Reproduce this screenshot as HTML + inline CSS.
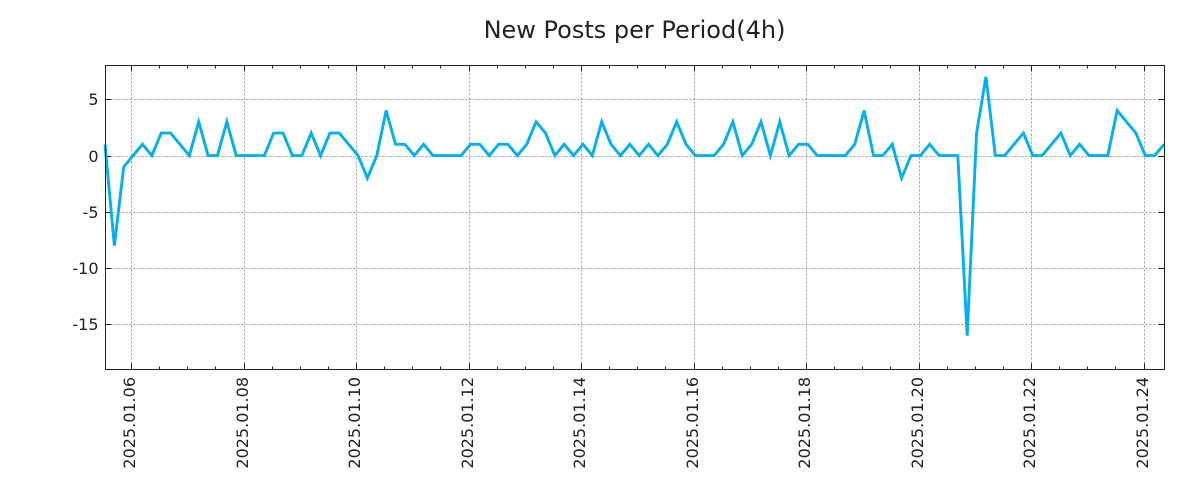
<!DOCTYPE html>
<html>
<head>
<meta charset="utf-8">
<style>
  html, body { margin: 0; padding: 0; background: #ffffff; }
  body { width: 1200px; height: 500px; overflow: hidden; }
  svg { display: block; }
  text { font-family: "DejaVu Sans", "Liberation Sans", sans-serif; fill: #222222; }
</style>
</head>
<body>
<svg id="chart" width="1200" height="500" viewBox="0 0 1200 500" xmlns="http://www.w3.org/2000/svg">
  <rect x="0" y="0" width="1200" height="500" fill="#ffffff"/>
  <text x="634.5" y="38" font-size="24" text-anchor="middle">New Posts per Period(4h)</text>
  <g id="grid" stroke="#9a9a9a" stroke-width="1" stroke-dasharray="2,2" fill="none"></g>
  <g id="ticks" stroke="#222222" stroke-width="1" fill="none"></g>
  <g id="labels"></g>
  <polyline id="series" fill="none" stroke="#00b0f0" stroke-width="2.9" stroke-linejoin="miter" stroke-miterlimit="4"/>
  <rect x="105.5" y="65.5" width="1059" height="304" fill="none" stroke="#222222" stroke-width="1"/>
</svg>
<script>
(function(){
  var NS = "http://www.w3.org/2000/svg";
  var L = 105.5, R = 1164.5, T = 65.5, B = 369.5;
  var ymax = 8, ymin = -19;
  function Y(v){ return T + (ymax - v) * (B - T) / (ymax - ymin); }
  function el(tag, attrs, parent, txt){
    var e = document.createElementNS(NS, tag);
    for (var k in attrs) e.setAttribute(k, attrs[k]);
    if (txt !== undefined) e.textContent = txt;
    parent.appendChild(e);
    return e;
  }
  var grid = document.getElementById('grid');
  var ticks = document.getElementById('ticks');
  var labels = document.getElementById('labels');

  [5, 0, -5, -10, -15].forEach(function(v){
    var y = Math.round(Y(v)) + 0.5;
    el('line', {x1: L, x2: R, y1: y, y2: y}, grid);
    el('line', {x1: L, x2: L + 6, y1: y, y2: y}, ticks);
    el('line', {x1: R - 6, x2: R, y1: y, y2: y}, ticks);
    el('text', {x: 98.5, y: y + 5.5, 'font-size': 16, 'text-anchor': 'end'}, labels, String(v));
  });

  var days = ['06','08','10','12','14','16','18','20','22','24'];
  for (var j = 0; j <= 36; j++) {
    var x = Math.round(131 + 28.125 * j) + 0.5;
    if (x > R) break;
    var major = (j % 4 === 0);
    var len = major ? 6 : 3;
    el('line', {x1: x, x2: x, y1: B, y2: B - len}, ticks);
    el('line', {x1: x, x2: x, y1: T, y2: T + len}, ticks);
    if (major) {
      el('line', {x1: x, x2: x, y1: T, y2: B}, grid);
      var d = days[j / 4];
      el('text', {transform: 'translate(' + (x + 3.5) + ',377) rotate(-90)', 'font-size': 16, 'text-anchor': 'end'}, labels, '2025.01.' + d);
    }
  }

  var data = [1,-8,-1,0,1,0,2,2,1,0,3,0,0,3,0,0,0,0,2,2,
              0,0,2,0,2,2,1,0,-2,0,4,1,1,0,1,0,0,0,0,1,
              1,0,1,1,0,1,3,2,0,1,0,1,0,3,1,0,1,0,1,0,
              1,3,1,0,0,0,1,3,0,1,3,0,3,0,1,1,0,0,0,0,
              1,4,0,0,1,-2,0,0,1,0,0,0,-16,2,7,0,0,1,2,0,
              0,1,2,0,1,0,0,0,4,3,2,0,0,1];
  var n = data.length;
  var pts = data.map(function(v, k){
    var x = 105 + (1164 - 105) * k / (n - 1);
    return x.toFixed(2) + ',' + Y(v).toFixed(2);
  }).join(' ');
  document.getElementById('series').setAttribute('points', pts);
})();
</script>
</body>
</html>
